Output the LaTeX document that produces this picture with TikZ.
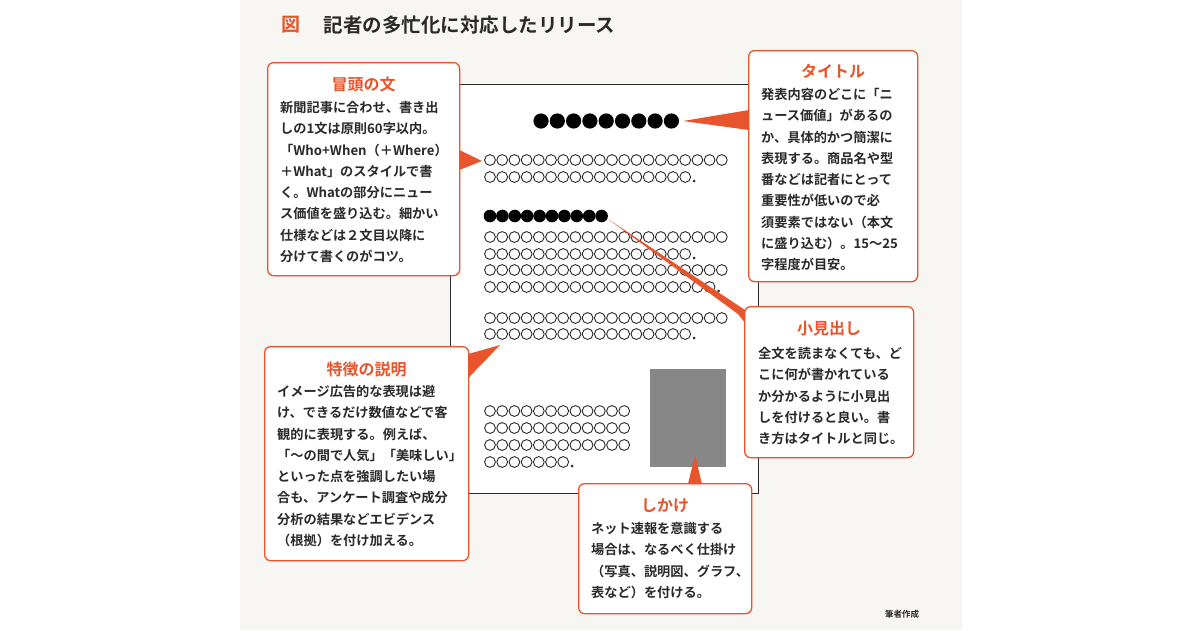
\documentclass[tikz,border=0pt]{standalone}
\usepackage{fontspec}
\setmainfont{Noto Sans CJK JP}
\newfontfamily\jpb{Noto Sans CJK JP Bold}
\usetikzlibrary{calc}
\definecolor{org}{HTML}{E8542B}
\definecolor{bgc}{HTML}{F7F6F2}
\definecolor{txt}{HTML}{2A2A2A}
\tikzset{
  cbox/.style={draw=org,line width=1.3pt,fill=white,rounded corners=6pt,anchor=north west,inner sep=0pt},
  head/.style={text=org,font=\jpb\fontsize{16}{18}\selectfont,anchor=north},
  body/.style={text=txt,font=\jpb\fontsize{13.2}{21.3}\selectfont,anchor=north west,align=left,inner sep=0pt},
  ptr/.style={fill=org,draw=none},
  oc/.style={draw=txt,line width=0.9pt},
  bd/.style={fill=black}
}
\newcommand{\orow}[4]{\foreach \i in {1,...,#3}{\draw[oc] ({#1+(\i-1)*12.2},#2) circle (5.4);}
  \ifnum#4=1 \fill[txt] ({#1+(#3-1)*12.2+9},{#2+4}) circle (1.5);\fi}
\begin{document}
\begin{tikzpicture}[x=1pt,y=-1pt]
\useasboundingbox (0,0) rectangle (1200,630);
\fill[white] (0,0) rectangle (1200,630);
\fill[bgc] (240,0) rectangle (962,630);
% title
\node[anchor=west,text=org,font=\jpb\fontsize{19}{22}\selectfont] (fig) at (278,25) {図};
\node[anchor=west,text=txt,font=\jpb\fontsize{19.5}{22}\selectfont] (ttl) at (320,25) {記者の多忙化に対応したリリース};
% paper
\node[draw=txt,line width=1pt,fill=white,minimum width=308pt,minimum height=409pt,anchor=north west,inner sep=0pt] (paper) at (450,84) {};
\foreach \i in {0,...,8}{\fill[black] ({541+\i*16.3},121) circle (7.6);}
\foreach \i in {0,...,9}{\fill[black] ({490+\i*12.4},216) circle (6.3);}
\orow{490}{160}{20}{0}
\orow{490}{177}{17}{1}
\orow{490}{237}{20}{0}
\orow{490}{254}{17}{1}
\orow{490}{270}{20}{0}
\orow{490}{287}{19}{1}
\orow{490}{318}{20}{0}
\orow{490}{334}{17}{1}
\orow{490}{411}{12}{0}
\orow{490}{428}{12}{0}
\orow{490}{445}{12}{0}
\orow{490}{462}{7}{1}
\node[fill=black!47,minimum width=76pt,minimum height=98pt,anchor=north west,inner sep=0pt] (photo) at (650,369) {};
% pointers
\coordinate (p1) at (683,121);
\coordinate (p2) at (482,161);
\coordinate (p3) at (608,219);
\coordinate (p4) at (500,345);
\coordinate (p5) at (695,455);
% boxes
\node[cbox,minimum width=192pt,minimum height=213pt] (lead) at (267,62) {};
\node[cbox,minimum width=169pt,minimum height=231pt] (tit) at (748,50) {};
\node[cbox,minimum width=169pt,minimum height=151pt] (sub) at (744,306) {};
\node[cbox,minimum width=204pt,minimum height=214pt] (feat) at (264,346) {};
\node[cbox,minimum width=173pt,minimum height=130pt] (trick) at (578,483) {};
\fill[ptr] (p1) -- ($(tit.north west)+(1,60)$) -- ($(tit.north west)+(1,80)$) -- cycle;
\fill[ptr] (p2) -- ($(lead.north east)+(-1,88)$) -- ($(lead.north east)+(-1,108)$) -- cycle;
\fill[ptr] (p3) -- ($(sub.north west)+(-6,8)$) -- ($(sub.north west)+(1,17)$) -- ($(sub.north west)+(1,4)$) -- cycle;
\fill[ptr] (p4) -- ($(feat.north east)+(-1,8)$) -- ($(feat.north east)+(-1,32)$) -- cycle;
\fill[ptr] (p5) -- ($(trick.north west)+(110,1)$) -- ($(trick.north west)+(124,1)$) -- cycle;
% texts
\node[head] (h1) at ($(lead.north)+(0,11)$) {冒頭の文};
\node[body] (b1) at ($(lead.north west)+(13,39)$) {新聞記事に合わせ、書き出\\しの1文は原則60字以内。\\「Who+When（＋Where）\\＋What」のスタイルで書\\く。Whatの部分にニュー\\ス価値を盛り込む。細かい\\仕様などは２文目以降に\\分けて書くのがコツ。};
\node[head] (h2) at ($(tit.north)+(0,11)$) {タイトル};
\node[body] (b2) at ($(tit.north west)+(13,38)$) {発表内容のどこに「ニ\\ュース価値」があるの\\か、具体的かつ簡潔に\\表現する。商品名や型\\番などは記者にとって\\重要性が低いので必\\須要素ではない（本文\\に盛り込む）。15〜25\\字程度が目安。};
\node[head] (h3) at ($(sub.north)+(0,12)$) {小見出し};
\node[body] (b3) at ($(sub.north west)+(14,41)$) {全文を読まなくても、ど\\こに何が書かれている\\か分かるように小見出\\しを付けると良い。書\\き方はタイトルと同じ。};
\node[head] (h4) at ($(feat.north)+(0,12)$) {特徴の説明};
\node[body] (b4) at ($(feat.north west)+(13,39)$) {イメージ広告的な表現は避\\け、できるだけ数値などで客\\観的に表現する。例えば、\\「〜の間で人気」「美味しい」\\といった点を強調したい場\\合も、アンケート調査や成分\\分析の結果などエビデンス\\（根拠）を付け加える。};
\node[head] (h5) at ($(trick.north)+(0,12)$) {しかけ};
\node[body] (b5) at ($(trick.north west)+(13,39)$) {ネット速報を意識する\\場合は、なるべく仕掛け\\（写真、説明図、グラフ、\\表など）を付ける。};
\node[text=txt,font=\jpb\fontsize{8.5}{10}\selectfont] (src) at (902,614) {筆者作成};
\end{tikzpicture}
\end{document}
